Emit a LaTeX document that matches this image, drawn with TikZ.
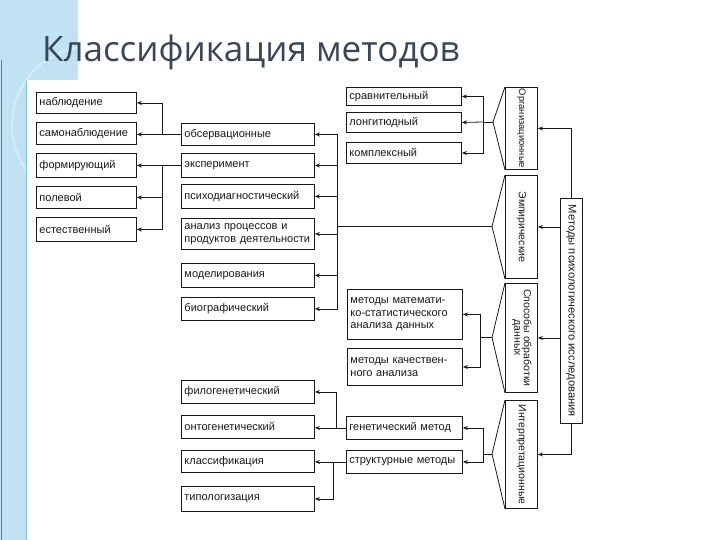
\documentclass[tikz,border=0pt]{standalone}
\usepackage{fontspec}
\setmainfont{Liberation Sans}
\newfontfamily\titlefont{Open Sans}
\usepackage{graphicx}
\usetikzlibrary{arrows.meta}
\definecolor{bgblue}{RGB}{193,226,242}
\definecolor{bglight}{RGB}{210,236,248}
\definecolor{bgline}{RGB}{140,185,210}
\definecolor{titlecol}{RGB}{58,70,88}
\definecolor{ink}{RGB}{25,25,25}
\tikzset{
  box/.style={draw=ink, line width=0.9pt, fill=white, inner xsep=3pt, inner ysep=1pt,
    align=left, text=ink, font=\fontsize{11}{12.5}\selectfont},
  vbox/.style={draw=ink, line width=0.9pt, fill=white, inner sep=0pt,
    text=ink, font=\fontsize{10.5}{11.5}\selectfont},
  ln/.style={draw=ink, line width=0.8pt},
  arr/.style={draw=ink, line width=0.8pt, -{Stealth[length=5pt,width=4pt]}}
}
\newcommand{\bx}[6]{%
  \pgfmathsetmacro\bxw{#4-#2}\pgfmathsetmacro\bxh{#5-#3}\pgfmathsetmacro\bxt{#4-#2-6}%
  \node[box, minimum width=\bxw pt, minimum height=\bxh pt, text width=\bxt pt,
        anchor=north west] (#1) at (#2,#3) {#6};}
\newcommand{\vbx}[6]{%
  \pgfmathsetmacro\bxw{#4-#2}\pgfmathsetmacro\bxh{#5-#3}%
  \node[vbox, minimum width=\bxw pt, minimum height=\bxh pt,
        anchor=north west] (#1) at (#2,#3) {\rotatebox{-90}{#6}};}
\begin{document}
\begin{tikzpicture}[x=1pt,y=-1pt]
\useasboundingbox (0,0) rectangle (720,540);
% background
\fill[white] (0,0) rectangle (720,540);
\fill[bgblue] (0,0) rectangle (78,80);
\fill[bgblue] (0,0) rectangle (27,540);
\begin{scope}
\clip (0,0) rectangle (78,80) (0,0) rectangle (27,540);
\draw[bglight, line width=2pt] (90,125) circle (78);
\end{scope}
\draw[bgline, line width=0.6pt] (26.5,80) -- (26.5,540);
\draw[bgline!70!black, line width=1pt] (1,60) -- (1,540);
% title
\node[anchor=base west, inner sep=0pt, text=titlecol,
      font=\titlefont\fontsize{35}{40}\selectfont] (title) at (42,62) {Классификация методов};
% column 1
\bx{a1}{36}{92}{136}{113}{наблюдение}
\bx{a2}{36}{122}{136}{144}{самонаблюдение}
\bx{a3}{36}{153}{136}{177}{формирующий}
\bx{a4}{36}{186}{136}{208}{полевой}
\bx{a5}{36}{217}{136}{241}{естественный}
% column 2
\bx{b1}{181}{123}{314}{145}{обсервационные}
\bx{b2}{181}{153}{314}{177}{эксперимент}
\bx{b3}{181}{184}{314}{208}{психодиагностический}
\bx{b4}{181}{218}{314}{249}{анализ процессов и\\продуктов деятельности}
\bx{b5}{181}{263}{314}{287}{моделирования}
\bx{b6}{181}{297}{314}{320}{биографический}
\bx{b7}{181}{380}{314}{403}{филогенетический}
\bx{b8}{181}{415}{314}{438}{онтогенетический}
\bx{b9}{181}{450}{314}{472}{классификация}
\bx{b10}{181}{486}{314}{511}{типологизация}
% column 3
\bx{c1}{346}{87}{461}{105}{сравнительный}
\bx{c2}{346}{112}{461}{132}{лонгитюдный}
\bx{c3}{346}{142}{461}{163}{комплексный}
\bx{c4}{347}{289}{462}{339}{методы математи-\\ко-статистического\\анализа данных}
\bx{c5}{347}{348}{462}{385}{методы качествен-\\ного анализа}
\bx{c6}{346}{416}{462}{439}{генетический метод}
\bx{c7}{346}{450}{462}{473}{структурные методы}
% column 4
\vbx{d1}{505}{87}{537}{169}{\fontsize{9.4}{10}\selectfont Организационные}
\vbx{d2}{505}{175}{537}{278}{Эмпирические}
\vbx{d3}{505}{283}{537}{392}{\begin{tabular}{@{}c@{}}Способы обработки\\[-2pt]данных\end{tabular}}
\vbx{d4}{505}{400}{537}{508}{Интерпретационные}
% main
\vbx{m}{560}{198}{582}{423}{\fontsize{11.2}{12}\selectfont Методы психологического исследования}
% main -> groups
\draw[arr] (m.north) |- (d1.east);
\draw[arr] (m.west |- d2.east) -- (d2.east);
\draw[arr] (m.west |- d3.east) -- (d3.east);
\draw[arr] (m.south) |- (d4.east);
% brackets
\coordinate (p1) at (493,122);
\coordinate (p2) at (492,226.5);
\coordinate (p3) at (492,337.5);
\coordinate (p4) at (492,454);
\draw[ln] (d1.north west) -- (p1) -- (d1.south west);
\draw[ln] (d2.north west) -- (p2) -- (d2.south west);
\draw[ln] (d3.north west) -- (p3) -- (d3.south west);
\draw[ln] (d4.north west) -- (p4) -- (d4.south west);
% organizational
\coordinate (j1) at (483,122);
\draw[ln] (p1) -- (j1);
\draw[arr] (j1) |- (c1.east);
\draw[arr] (j1) -- (c2.east);
\draw[arr] (j1) |- (c3.east);
% empirical
\coordinate (j2) at (337,226.5);
\draw[ln] (p2) -- (j2);
\draw[arr] (j2) |- (b1.east);
\draw[arr] (j2) |- (b2.east);
\draw[arr] (j2) |- (b3.east);
\draw[arr] (j2) |- (b4.east);
\draw[arr] (j2) |- (b5.east);
\draw[arr] (j2) |- (b6.east);
% data processing
\coordinate (j3) at (480,337.5);
\draw[ln] (p3) -- (j3);
\draw[arr] (j3) |- (c4.east);
\draw[arr] (j3) |- (c5.east);
% interpretational
\coordinate (j4) at (483,454);
\draw[ln] (p4) -- (j4);
\draw[arr] (j4) |- (c6.east);
\draw[arr] (j4) |- (c7.east);
% column 2 -> column 1
\draw[arr] (b1.west) -- (b1.west -| a2.east);
\coordinate (k1) at (162,134);
\draw[arr] (k1) |- (a1.east);
\draw[arr] (b2.west) -- (b2.west -| a3.east);
\coordinate (k2) at (162,165);
\draw[arr] (k2) |- (a4.east);
\draw[arr] (k2) |- (a5.east);
% column 3 -> column 2
\draw[arr] (c6.west) -- (c6.west -| b8.east);
\coordinate (k3) at (336,427.5);
\draw[arr] (k3) |- (b7.east);
\draw[arr] (c7.west) -- (c7.west -| b9.east);
\coordinate (k4) at (333,461.5);
\draw[arr] (k4) |- (b10.east);
\end{tikzpicture}
\end{document}
